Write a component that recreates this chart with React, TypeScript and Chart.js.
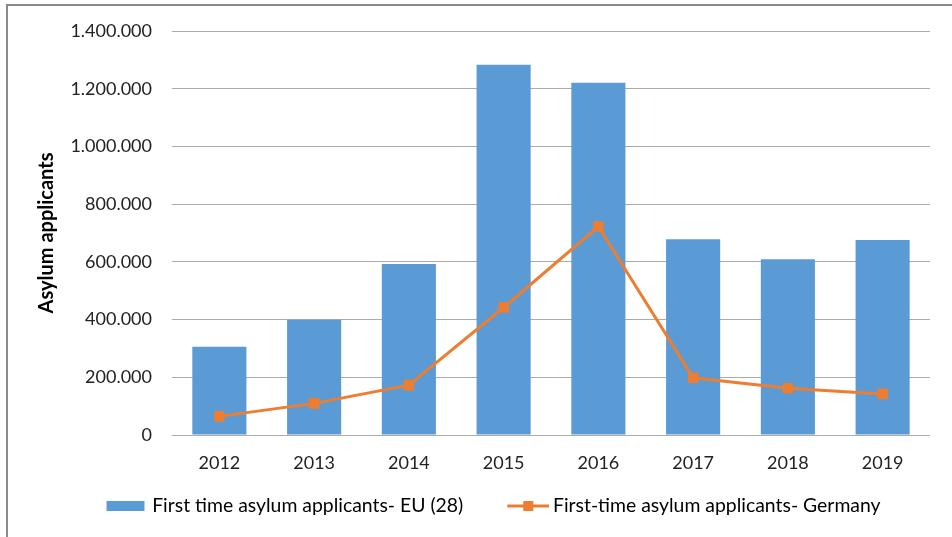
import React, { useEffect, useRef } from 'react';
import { Chart, registerables } from 'chart.js';

Chart.register(...registerables);

const years = ['2012', '2013', '2014', '2015', '2016', '2017', '2018', '2019'];
const euApplicants = [306000, 399000, 593000, 1283000, 1221000, 678000, 609000, 676000];
const germanyApplicants = [64500, 109600, 172900, 441800, 722300, 198300, 161900, 142500];
const euLabel = 'First time asylum applicants- EU (28)';
const deLabel = 'First-time asylum applicants- Germany';
const yAxisTitle = 'Asylum applicants';
const yMin = 0;
const yMax = 1400000;
const yStep = 200000;

const BLUE = '#5B9BD5';
const ORANGE = '#ED7D31';
const FONT = 'Lato, "Open Sans", sans-serif';
const LEGEND_BOX = 58;
const ICON_W = 70;
const ICON_H = 14;

function formatDe(v: number): string {
  return String(Math.round(v)).replace(/\B(?=(\d{3})+(?!\d))/g, '.');
}

function makeBarIcon(): HTMLCanvasElement {
  const c = document.createElement('canvas');
  c.width = ICON_W;
  c.height = ICON_H;
  const ctx = c.getContext('2d')!;
  ctx.fillStyle = BLUE;
  ctx.fillRect(28, 2, 38, 10);
  return c;
}

function makeLineIcon(): HTMLCanvasElement {
  const c = document.createElement('canvas');
  c.width = ICON_W;
  c.height = ICON_H;
  const ctx = c.getContext('2d')!;
  ctx.strokeStyle = ORANGE;
  ctx.lineWidth = 3;
  ctx.beginPath();
  ctx.moveTo(28, 7);
  ctx.lineTo(70, 7);
  ctx.stroke();
  ctx.fillStyle = ORANGE;
  ctx.fillRect(44, 2, 10, 10);
  return c;
}

export default function App() {
  const canvasRef = useRef<HTMLCanvasElement | null>(null);

  useEffect(() => {
    if (!canvasRef.current) return;
    const barIcon = makeBarIcon();
    const lineIcon = makeLineIcon();
    const chart = new Chart(canvasRef.current, {
      data: {
        labels: years,
        datasets: [
          {
            type: 'line',
            label: deLabel,
            data: germanyApplicants,
            borderColor: ORANGE,
            backgroundColor: ORANGE,
            borderWidth: 3,
            pointStyle: 'rect',
            pointRadius: 7.5,
            pointBorderWidth: 0,
            pointBackgroundColor: ORANGE,
            tension: 0,
            order: 0,
          },
          {
            type: 'bar',
            label: euLabel,
            data: euApplicants,
            backgroundColor: BLUE,
            borderWidth: 0,
            barPercentage: 0.571,
            categoryPercentage: 1,
            order: 1,
          },
        ],
      },
      options: {
        responsive: false,
        animation: false,
        layout: { padding: { left: 35, right: 22, top: 31, bottom: 11.3 } },
        plugins: {
          tooltip: { enabled: false },
          legend: {
            position: 'bottom',
            labels: {
              usePointStyle: true,
              pointStyleWidth: LEGEND_BOX,
              padding: 22,
              color: '#222',
              font: { family: FONT, size: 19.4 },
              generateLabels: () => [
                {
                  text: euLabel,
                  pointStyle: barIcon,
                  fillStyle: BLUE,
                  strokeStyle: BLUE,
                  lineWidth: 0,
                  datasetIndex: 1,
                  hidden: false,
                },
                {
                  text: deLabel,
                  pointStyle: lineIcon,
                  fillStyle: ORANGE,
                  strokeStyle: ORANGE,
                  lineWidth: 0,
                  datasetIndex: 0,
                  hidden: false,
                },
              ],
            },
          },
        },
        scales: {
          x: {
            afterFit: (scale: any) => {
              scale.height = 39.3;
            },
            grid: { display: false, drawTicks: false },
            border: { display: false },
            ticks: {
              color: '#222',
              font: { family: FONT, size: 18 },
              padding: 17,
            },
          },
          y: {
            min: yMin,
            max: yMax,
            afterFit: (scale: any) => {
              scale.width = 137;
            },
            border: { display: false },
            grid: { color: '#ABABAB', lineWidth: 1, drawTicks: false },
            ticks: {
              stepSize: yStep,
              padding: 20,
              color: '#222',
              font: { family: FONT, size: 18 },
              callback: (v: any) => formatDe(Number(v)),
            },
            title: {
              display: true,
              text: yAxisTitle,
              color: '#000',
              font: { family: FONT, size: 20, weight: 'bold' },
              padding: { top: 0, bottom: 0 },
            },
          },
        },
      },
    } as any);
    return () => chart.destroy();
  }, []);

  return (
    <div
      style={{
        position: 'fixed',
        left: 0,
        top: 0,
        width: 952,
        height: 537,
        overflow: 'hidden',
        background: '#fff',
      }}
    >
      <div
        style={{
          position: 'absolute',
          left: 6,
          top: 4,
          width: 1000,
          height: 600,
          border: '2px solid #8A8A8A',
          boxSizing: 'border-box',
        }}
      />
      <canvas
        ref={canvasRef}
        width={952}
        height={537}
        style={{ position: 'absolute', left: 0, top: 0, width: 952, height: 537 }}
      />
    </div>
  );
}
